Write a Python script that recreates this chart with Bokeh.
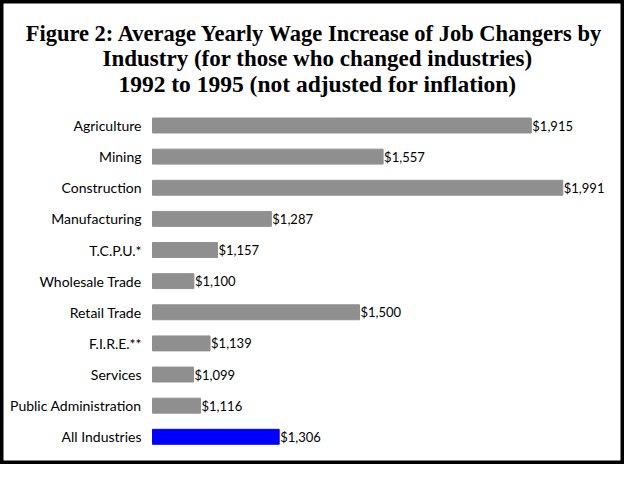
from bokeh.plotting import figure
from bokeh.models import ColumnDataSource, Range1d, Label
from bokeh.core.properties import value
from bokeh.embed import file_html
from bokeh.resources import INLINE

# Data
industries = [
    "Agriculture",
    "Mining",
    "Construction",
    "Manufacturing",
    "T.C.P.U.*",
    "Wholesale Trade",
    "Retail Trade",
    "F.I.R.E.**",
    "Services",
    "Public Administration",
    "All Industries",
]
increase = [1915, 1557, 1991, 1287, 1157, 1100, 1500, 1139, 1099, 1116, 1306]
bar_colors = ["#8f8f8f"] * 10 + ["#0000ff"]
value_labels = [f"${v:,}" for v in increase]

title_lines = [
    "Figure 2:  Average Yearly Wage Increase of Job Changers by",
    "Industry (for those who changed industries)",
    "1992 to 1995 (not adjusted for inflation)",
]

W, H = 624, 464
base = 1000          # bars start at $1,000
px_per_dollar = 0.414
bar_left = 152       # pixel where the bars start
row_h = 31.13        # pixels per industry row
first_row = 125      # pixel (from top) of the first row's centre

rows = list(range(len(industries)))

source = ColumnDataSource(
    data=dict(row=rows, industry=industries, increase=increase, color=bar_colors, label=value_labels)
)

# the frame fills the whole canvas, so the outline is the picture's border
p = figure(
    x_range=Range1d(base - bar_left / px_per_dollar, base + (W - bar_left) / px_per_dollar),
    y_range=Range1d((H - first_row) / row_h, -first_row / row_h),
    width=W,
    height=H,
    title=None,
    toolbar_location=None,
    tools="",
    output_backend="svg",
    x_axis_location=None,
    y_axis_location=None,
    min_border=0,
)

p.hbar(y="row", left=base, right="increase", height=0.48, color="color", source=source)

# category names
p.text(
    x=base, y="row", text="industry", source=source,
    x_offset=-11, text_align="right", text_baseline="middle",
    text_font=value("Lato"), text_font_size="14px", text_color="black",
)

# values at the end of each bar
p.text(
    x="increase", y="row", text="label", source=source,
    x_offset=1, text_align="left", text_baseline="middle",
    text_font=value("Lato"), text_font_size="13px", text_color="black",
)

# title, three centred lines
for line, size, baseline in zip(title_lines, ["22.5px", "23px", "23.5px"], [33, 58, 83]):
    p.add_layout(
        Label(
            x=317, y=H - baseline, x_units="screen", y_units="screen",
            text=line, text_align="center", text_baseline="alphabetic",
            text_font="Liberation Serif", text_font_size=size,
            text_font_style="bold", text_color="black",
        )
    )

p.xgrid.grid_line_color = None
p.ygrid.grid_line_color = None
p.outline_line_color = "black"
p.outline_line_width = 6

open("out.html", "w").write(file_html(p, INLINE))
